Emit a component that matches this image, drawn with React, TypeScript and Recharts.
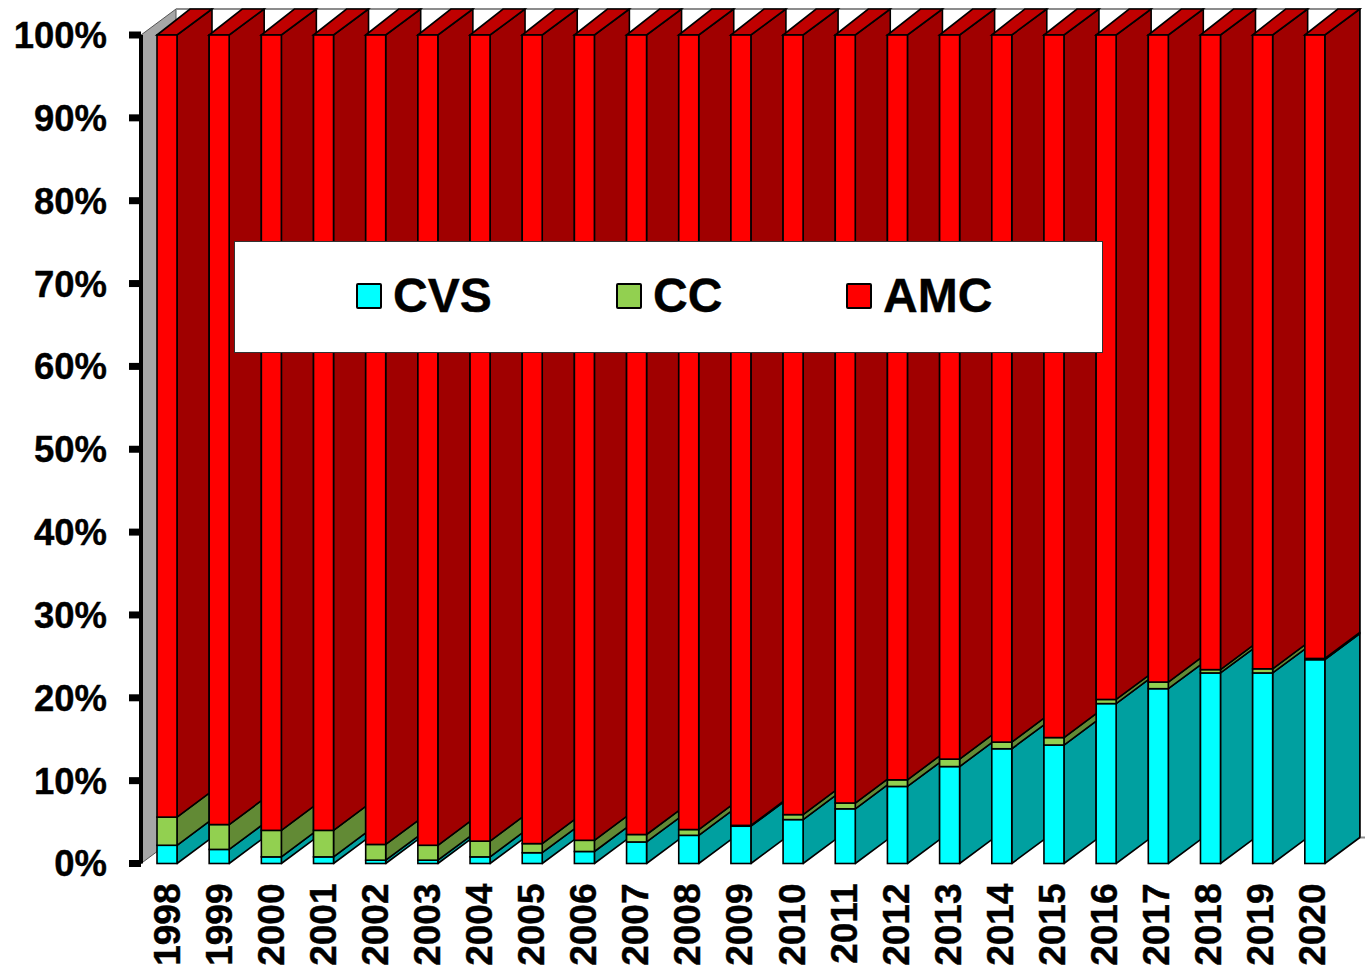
import React from 'react';
import { BarChart, Bar, XAxis, YAxis, Legend, ReferenceArea } from 'recharts';

const years = ['1998','1999','2000','2001','2002','2003','2004','2005','2006','2007','2008','2009','2010','2011','2012','2013','2014','2015','2016','2017','2018','2019','2020'];
const cvs = [2.2,1.7,0.8,0.8,0.4,0.4,0.8,1.3,1.45,2.6,3.4,4.5,5.3,6.6,9.3,11.7,13.85,14.3,19.3,21.1,23.0,23.0,24.6];
const cc = [3.4,3.0,3.2,3.2,1.9,1.8,1.9,1.1,1.35,0.9,0.7,0.1,0.6,0.7,0.8,0.9,0.8,0.9,0.5,0.8,0.4,0.5,0.15];
const amc = [94.4,95.3,96.0,96.0,97.7,97.8,97.3,97.6,97.2,96.5,95.9,95.4,94.1,92.7,89.9,87.4,85.35,84.8,80.2,78.1,76.6,76.5,75.25];
const yTicks = [0,10,20,30,40,50,60,70,80,90,100];
const legendOrder = ['CVS', 'CC', 'AMC'];

const data = years.map((year, i) => ({ year, CVS: cvs[i], CC: cc[i], AMC: amc[i] }));

const FONT = '"Liberation Sans", Arial, sans-serif';
const DX = 35;
const DY = 26;
const STEP = 1200 / 23;
const EDGE = '#000';
const EW = 1.6;

const pts = (p: number[][]) => p.map((q) => q.join(',')).join(' ');

function makeShape(front: string, side: string, top?: string) {
  return function Shape(props: any) {
    const { x, y, width, height, index } = props;
    const xr = x + width;
    const yb = y + height;
    const last = index === years.length - 1;
    const L = last ? xr + DX : x + STEP;
    const k = (L - xr) / DX;
    const sidePts = top
      ? [[xr, y], [xr + DX, y - DY], [xr + DX, y], [L, y], [L, yb - DY * k], [xr, yb]]
      : [[xr, y], [L, y - DY * k], [L, yb - DY * k], [xr, yb]];
    return (
      <g>
        <polygon points={pts(sidePts)} fill={side} stroke={EDGE} strokeWidth={EW} strokeLinejoin="round" />
        {top && (
          <polygon
            points={pts([[x, y], [x + DX - 2, y - DY], [xr + DX, y - DY], [xr, y]])}
            fill={top}
            stroke={EDGE}
            strokeWidth={EW}
          />
        )}
        <rect x={x} y={y} width={width} height={height} fill={front} stroke={EDGE} strokeWidth={EW} />
      </g>
    );
  };
}

function Walls(props: any) {
  const { x, y, width, height } = props;
  const xb = x + DX;
  const yt = y - DY;
  const yf = y + height;
  const right = x + width + 19;
  return (
    <g>
      <polygon points={pts([[x, y], [xb, yt], [xb, yf - DY], [x, yf]])} fill="#A6A6A6" stroke="#555" strokeWidth={1} />
      <polyline points={pts([[xb, yt], [right, yt], [right, yf - DY], [right + 5, yf - DY]])} fill="none" stroke="#8c8c8c" strokeWidth={2} />
    </g>
  );
}

function XTick(props: any) {
  const { x, y, payload, index } = props;
  const cx = x - (index + 0.5) * 0.087;
  return (
    <text
      x={cx}
      y={y}
      transform={`rotate(-90 ${cx} ${y})`}
      textAnchor="end"
      dominantBaseline="central"
      fontFamily={FONT}
      fontWeight="bold"
      fontSize={37}
      fill="#000"
      stroke="#000"
      strokeWidth={0.4}
    >
      {payload.value}
    </text>
  );
}

function LegendBox(props: any) {
  const swatchX = [121, 381, 611];
  const entries = legendOrder.map((name) => (props.payload || []).find((e: any) => e.value === name)).filter(Boolean);
  return (
    <div style={{ position: 'relative', width: 867, height: 110, background: '#fff', border: '1px solid #333' }}>
      {entries.map((e: any, i: number) => (
        <React.Fragment key={e.value}>
          <div
            style={{
              position: 'absolute',
              left: swatchX[i],
              top: 41,
              width: 22,
              height: 22,
              background: e.color,
              border: '2px solid #000',
              borderRadius: 2,
            }}
          />
          <div
            style={{
              position: 'absolute',
              left: swatchX[i] + 37,
              top: 26,
              fontFamily: FONT,
              fontWeight: 'bold',
              fontSize: 48,
              lineHeight: '55px',
              color: '#000',
              WebkitTextStroke: '0.4px #000',
            }}
          >
            {e.value}
          </div>
        </React.Fragment>
      ))}
    </div>
  );
}

export default function App() {
  return (
    <div style={{ position: 'absolute', left: 0, top: 0, width: 1365, height: 969, overflow: 'hidden', background: '#fff' }}>
      <BarChart
        width={1365}
        height={969}
        data={data}
        margin={{ top: 35, right: 24, left: 0, bottom: 0 }}
        barSize={20}
        style={{ overflow: 'visible' }}
      >
        <ReferenceArea y1={0} y2={100} shape={<Walls />} ifOverflow="visible" />
        <XAxis
          dataKey="year"
          height={105.5}
          axisLine={false}
          tickLine={false}
          interval={0}
          tick={<XTick />}
          tickMargin={14}
        />
        <YAxis
          width={141}
          domain={[0, 100]}
          ticks={yTicks}
          tickFormatter={(v: number) => `${v}%`}
          axisLine={{ stroke: '#000', strokeWidth: 4 }}
          tickLine={{ stroke: '#000', strokeWidth: 7 }}
          tickSize={12}
          tickMargin={22}
          tick={{ fontFamily: FONT, fontWeight: 'bold', fontSize: 36.5, fill: '#000', stroke: '#000', strokeWidth: 0.4 }}
        />
        <Bar dataKey="CVS" stackId="a" fill="#00FFFF" isAnimationActive={false} shape={makeShape('#00FFFF', '#00A0A0')} />
        <Bar dataKey="CC" stackId="a" fill="#92D050" isAnimationActive={false} shape={makeShape('#92D050', '#628A35')} />
        <Bar dataKey="AMC" stackId="a" fill="#FF0000" isAnimationActive={false} shape={makeShape('#FF0000', '#A00000', '#C00000')} />
        <Legend
          layout="horizontal"
          verticalAlign="middle"
          align="center"
          wrapperStyle={{ left: 234, top: 241, width: 869, height: 112 }}
          content={<LegendBox />}
        />
      </BarChart>
    </div>
  );
}
